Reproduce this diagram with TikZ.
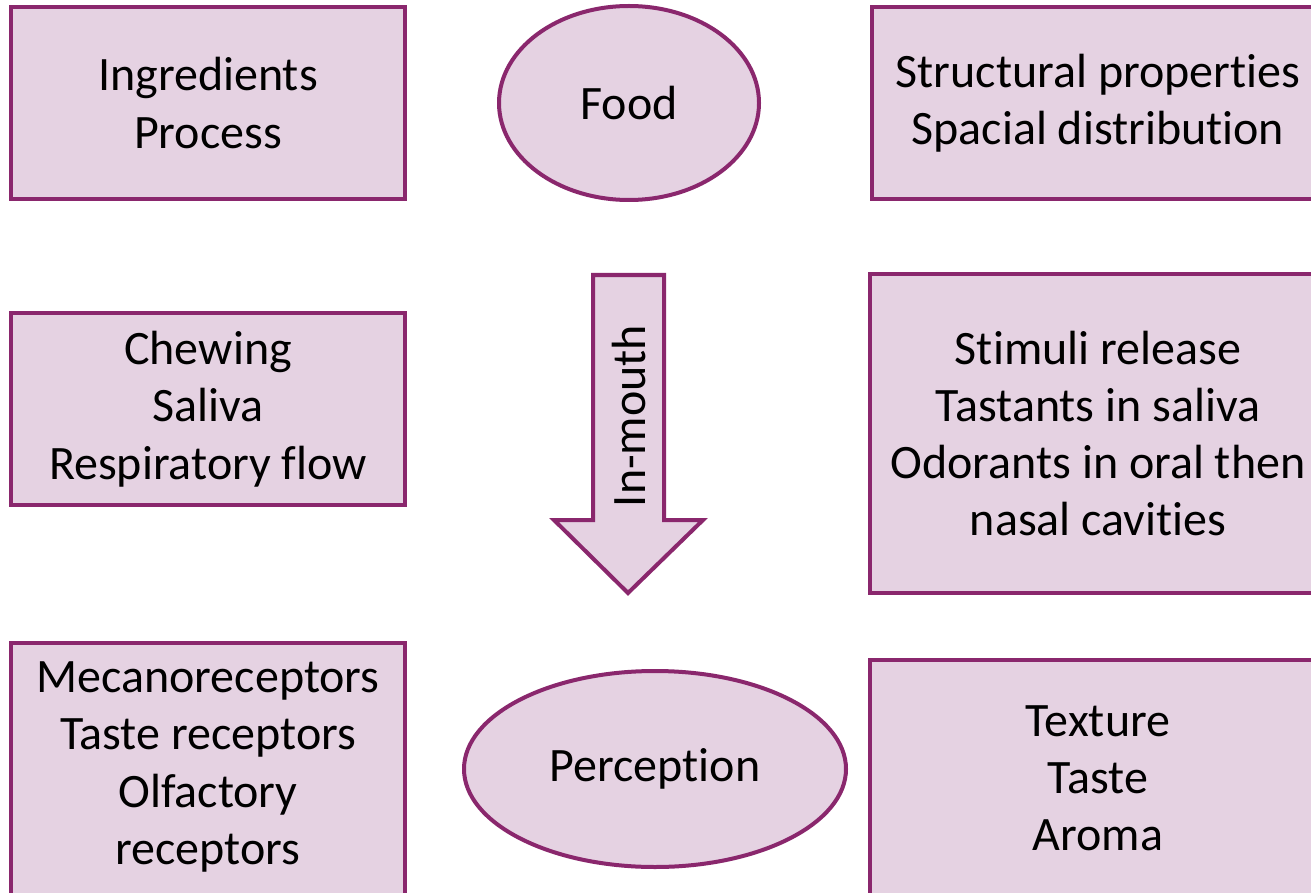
\documentclass[tikz,border=0pt]{standalone}
\usepackage{fontspec}
\setmainfont{Carlito}[Ligatures=NoCommon]
\usetikzlibrary{shapes.geometric}
\definecolor{plumline}{HTML}{8A276D}
\definecolor{plumfill}{HTML}{E5D2E2}
\tikzset{
  frame/.style={draw=plumline, fill=plumfill, line width=2pt, rectangle, inner sep=0pt, line join=miter},
  oval/.style={draw=plumline, fill=plumfill, line width=2pt, ellipse, inner sep=0pt},
  txt/.style={align=center, font=\fontsize{24}{28.6}\selectfont, text=black, inner sep=0pt},
}
\begin{document}
\begin{tikzpicture}[x=0.5pt,y=-0.5pt]
\useasboundingbox (0,0) rectangle (1311,893);
\clip (0,0) rectangle (1311,893);
\fill[white] (0,0) rectangle (1311,893);

% top row
\node[frame, txt, minimum width=197pt, minimum height=96pt] (ingr) at (208,103) {Ingredients\\Process};
\node[oval, txt, minimum width=130pt, minimum height=97pt] (food) at (629,103) {Food};
\node[frame, txt, minimum width=226pt, minimum height=96pt] (struct) at (1098,103) {Structural properties\\Spacial distribution};

% middle row
\node[frame, txt, minimum width=197pt, minimum height=96pt] (chew) at (208,409) {Chewing\\Saliva\\Respiratory flow};
\draw[frame] (593,275) -- (664,275) -- (664,520) -- (703,520) -- (628,593) -- (554,520) -- (593,520) -- cycle;
\node[txt, rotate=90] (inmouth) at (629,416) {In-mouth};
\node[frame, txt, minimum width=228pt, minimum height=159.5pt] (stim) at (1098,433.5) {Stimuli release\\Tastants in saliva\\Odorants in oral then\\nasal cavities};

% bottom row
\node[frame, minimum width=197pt, minimum height=140pt] (mecframe) at (208,783) {};
\node[txt] (mec) at (208,767) {Mecanoreceptors\\Taste receptors\\Olfactory\\receptors};
\node[oval, txt, minimum width=191pt, minimum height=98pt] (perc) at (655,769) {Perception};
\node[frame, minimum width=228pt, minimum height=130pt] (texframe) at (1098,790) {};
\node[txt] (tex) at (1098,778) {Texture\\Taste\\Aroma};
\end{tikzpicture}
\end{document}
